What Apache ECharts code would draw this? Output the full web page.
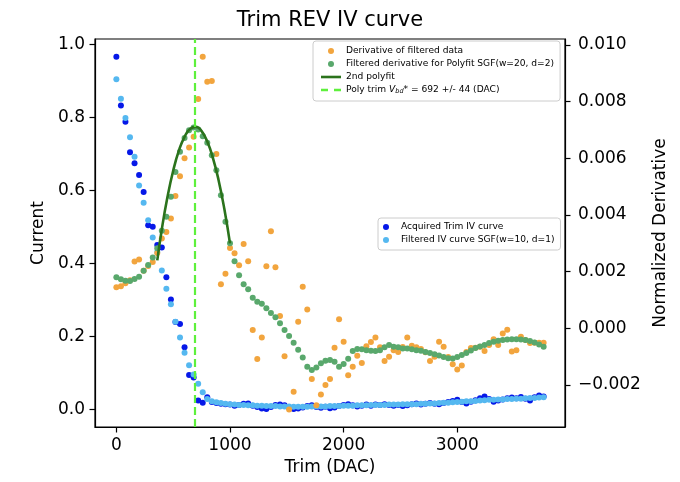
<!DOCTYPE html>
<html><head><meta charset="utf-8">
<script src="https://cdn.jsdelivr.net/npm/echarts@6/dist/echarts.min.js"></script>
<style>html,body{margin:0;padding:0;background:#fff}#c{width:680px;height:482px}</style>
</head><body><div id="c"></div>
<script>
const trim = [0,40,80,120,160,200,240,280,320,360,400,440,480,520,560,600,640,680,720,760,800,840,880,920,960,1000,1040,1080,1120,1160,1200,1240,1280,1320,1360,1400,1440,1480,1520,1560,1600,1640,1680,1720,1760,1800,1840,1880,1920,1960,2000,2040,2080,2120,2160,2200,2240,2280,2320,2360,2400,2440,2480,2520,2560,2600,2640,2680,2720,2760,2800,2840,2880,2920,2960,3000,3040,3080,3120,3160,3200,3240,3280,3320,3360,3400,3440,3480,3520,3560,3600,3640,3680,3720,3760];
const ivAcquired = [0.966,0.832,0.788,0.704,0.674,0.642,0.595,0.504,0.500,0.450,0.443,0.362,0.301,0.239,0.234,0.170,0.094,0.087,0.024,0.018,0.033,0.020,0.017,0.015,0.014,
0.013,0.010,0.012,0.015,0.016,0.010,0.006,0.002,0.001,0.006,0.012,0.013,0.011,0.005,0.001,0.002,0.005,0.009,0.011,0.006,0.004,0.007,0.003,0.005,0.009,0.012,0.014,0.011,0.008,0.010,0.013,0.010,0.013,0.012,0.014,0.012,0.010,0.012,0.009,0.011,0.014,0.016,0.013,0.015,0.017,0.015,0.014,0.017,0.020,0.023,0.026,0.020,0.016,0.021,0.025,0.030,0.035,0.028,0.021,0.024,0.027,0.030,0.032,0.030,0.034,0.029,0.024,0.033,0.038,0.035];
const ivFiltered = [0.904,0.851,0.798,0.745,0.692,0.613,0.566,0.518,0.471,0.431,0.380,0.330,0.288,0.240,0.197,0.155,0.121,0.095,0.070,0.047,0.028,0.022,0.019,0.017,0.015,
0.014,0.013,0.012,0.012,0.011,0.011,0.010,0.010,0.009,0.009,
0.009,0.008,0.008,0.008,0.007,0.007,0.007,0.007,0.008,0.008,
0.008,0.008,0.009,0.009,0.009,0.010,0.010,0.010,0.011,0.011,
0.011,0.012,0.012,0.012,0.012,0.013,0.013,0.013,0.014,0.014,
0.014,0.014,0.015,0.015,0.016,0.016,0.017,0.018,0.018,0.019,
0.020,0.021,0.022,0.022,0.023,0.024,0.025,0.026,0.026,0.027,
0.027,0.028,0.028,0.029,0.029,0.030,0.031,0.031,0.032,0.033];
const derivFiltered = [0.00145,0.00149,0.00159,0.00170,0.00236,0.00243,0.00203,0.00220,0.00234,0.00266,
0.00317,0.00340,0.00388,0.00467,0.00537,0.00600,0.00638,0.00676,0.00809,0.00958,
0.00870,0.00873,0.00615,0.00156,0.00193,0.00284,0.00265,0.00223,0.00298,0.00237,
-0.00006,-0.00108,-0.00032,0.00219,0.00343,0.00216,0.00044,-0.00098,-0.00286,-0.00224,
0.00023,0.00147,0.00067,-0.00179,-0.00271,-0.00233,-0.00200,-0.00179,-0.00068,0.00032,
-0.00047,-0.00165,-0.00135,-0.00097,-0.00122,-0.00063,-0.00048,-0.00032,-0.00067,-0.00115,
-0.00100,-0.00077,-0.00083,-0.00066,-0.00032,-0.00061,-0.00067,-0.00073,-0.00084,-0.00115,
-0.00100,-0.00047,-0.00065,-0.00101,-0.00127,-0.00145,-0.00131,-0.00083,-0.00069,-0.00068,
-0.00065,-0.00080,-0.00059,-0.00038,-0.00059,-0.00018,-0.00005,-0.00082,-0.00077,-0.00030,
-0.00041,-0.00052,-0.00051,-0.00051,-0.00051];
const derivSGF = [0.00180,0.00173,0.00168,0.00167,0.00174,0.00182,0.00203,0.00224,0.00250,0.00283,
0.00344,0.00394,0.00464,0.00552,0.00623,0.00672,0.00699,0.00709,0.00702,0.00678,
0.00655,0.00611,0.00558,0.00470,0.00376,0.00300,0.00237,0.00187,0.00156,0.00138,
0.00108,0.00094,0.00087,0.00071,0.00054,0.00039,0.00018,-0.00006,-0.00027,-0.00051,
-0.00075,-0.00103,-0.00135,-0.00147,-0.00138,-0.00123,-0.00114,-0.00112,-0.00118,-0.00135,
-0.00126,-0.00107,-0.00080,-0.00073,-0.00074,-0.00077,-0.00079,-0.00080,-0.00077,-0.00067,
-0.00059,-0.00065,-0.00067,-0.00071,-0.00071,-0.00074,-0.00077,-0.00079,-0.00083,-0.00087,
-0.00091,-0.00096,-0.00101,-0.00105,-0.00106,-0.00101,-0.00094,-0.00087,-0.00078,-0.00069,
-0.00064,-0.00059,-0.00052,-0.00047,-0.00044,-0.00041,-0.00039,-0.00038,-0.00038,-0.00039,
-0.00041,-0.00045,-0.00050,-0.00057,-0.00065];
const polyTrim = [360,400,450,500,550,600,650,700,750,800,850,900,950,1000];
const polyFit = [0.00240,0.00350,0.00464,0.00556,0.00627,0.00676,0.00704,0.00711,0.00696,0.00659,0.00601,0.00522,0.00422,0.00300];
const vbdTrim = 692;
const xTicks = [0,1000,2000,3000];
const yLeftTicks = [0,0.2,0.4,0.6,0.8,1.0];
const yRightTicks = [-0.002,0,0.002,0.004,0.006,0.008,0.010];

const xRange = [-188, 3948];
const yLeftRange = [-0.0485, 1.0145];
const yRightRange = [-0.00348, 0.01021];

const FONT = 'DejaVu Sans';
const pair = (xs, ys) => xs.map((x, i) => [x, ys[i]]);
const NAME_A = 'Acquired Trim IV curve';
const NAME_F = 'Filtered IV curve SGF(w=10, d=1)';
const NAME_D = 'Derivative of filtered data';
const NAME_G = 'Filtered derivative for Polyfit SGF(w=20, d=2)';
const NAME_P = '2nd polyfit';
const NAME_V = 'Poly trim Vbd* = 692 +/- 44 (DAC)';
const C_POLY = '#2b731c', C_VBD = '#5ef03c';

const axisCommon = {
  splitLine: {show: false},
  axisLine: {show: true, onZero: false, lineStyle: {color: '#000', width: 1.2}},
  axisTick: {show: true, length: 5.5, lineStyle: {color: '#000', width: 1.2}},
  nameTextStyle: {fontSize: 17, color: '#000', fontFamily: FONT}
};
const legendCommon = {
  orient: 'vertical', selectedMode: false,
  itemWidth: 20, itemHeight: 6, itemGap: 3,
  backgroundColor: 'rgba(255,255,255,0.8)', borderColor: '#cccccc', borderWidth: 1, borderRadius: 3,
  textStyle: {fontSize: 9.1, lineHeight: 10, color: '#000', fontFamily: FONT,
    rich: {
      i: {fontSize: 9.1, fontStyle: 'italic', color: '#000', fontFamily: FONT},
      s: {fontSize: 6.5, fontStyle: 'italic', color: '#000', fontFamily: FONT, verticalAlign: 'bottom'}
    }}
};

const chart = echarts.init(document.getElementById('c'));
chart.setOption({
  animation: false,
  textStyle: {fontFamily: FONT},
  grid: {left: 95, right: 115, top: 39, bottom: 55, show: true, borderColor: '#000', borderWidth: 1.2},
  graphic: [{type: 'text', x: 330, y: 21,
    style: {text: 'Trim REV IV curve', fontSize: 21, fontFamily: FONT, fill: '#000',
      align: 'center', verticalAlign: 'middle', textAlign: 'center', textVerticalAlign: 'middle'}}],
  xAxis: Object.assign({}, axisCommon, {
    type: 'value', min: xRange[0], max: xRange[1],
    axisTick: Object.assign({}, axisCommon.axisTick, {customValues: xTicks}),
    axisLabel: {customValues: xTicks, margin: 10, fontSize: 17, color: '#000', fontFamily: FONT,
      formatter: v => String(Math.round(v))},
    name: 'Trim (DAC)', nameLocation: 'middle', nameGap: 30
  }),
  yAxis: [
    Object.assign({}, axisCommon, {
      type: 'value', position: 'left', min: yLeftRange[0], max: yLeftRange[1],
      axisTick: Object.assign({}, axisCommon.axisTick, {customValues: yLeftTicks}),
      axisLabel: {customValues: yLeftTicks, margin: 10, fontSize: 17, color: '#000', fontFamily: FONT,
        formatter: v => v.toFixed(1)},
      name: 'Current', nameLocation: 'middle', nameGap: 48
    }),
    Object.assign({}, axisCommon, {
      type: 'value', position: 'right', min: yRightRange[0], max: yRightRange[1],
      axisTick: Object.assign({}, axisCommon.axisTick, {customValues: yRightTicks}),
      axisLabel: {customValues: yRightTicks, margin: 13, fontSize: 17, color: '#000', fontFamily: FONT,
        formatter: v => (v < -1e-9 ? '\u2212' : '') + Math.abs(v).toFixed(3)},
      name: 'Normalized Derivative', nameLocation: 'middle', nameGap: 84
    })
  ],
  legend: [
    Object.assign({}, legendCommon, {
      left: 313, top: 41, padding: [5, 6, 6, 8],
      data: [NAME_D, NAME_G,
        {name: NAME_P, icon: 'path://M0 0h20v2.6h-20z', itemStyle: {color: C_POLY}},
        {name: NAME_V, icon: 'path://M0 0h7v2.4h-7z M13 0h7v2.4h-7z', itemStyle: {color: C_VBD}}],
      formatter: n => n === NAME_V ? 'Poly trim {i|V}{s|bd}* = 692 +/- 44 (DAC)' : n
    }),
    Object.assign({}, legendCommon, {
      left: 378, top: 218, padding: [4, 6, 5, 5],
      data: [NAME_A, NAME_F]
    })
  ],
  series: [
    {name: NAME_A, type: 'scatter', yAxisIndex: 0, symbol: 'circle', symbolSize: 6,
      itemStyle: {color: '#0618e8', opacity: 1}, data: pair(trim, ivAcquired), z: 2},
    {name: NAME_F, type: 'scatter', yAxisIndex: 0, symbol: 'circle', symbolSize: 6,
      itemStyle: {color: '#55b8f0', opacity: 1}, data: pair(trim, ivFiltered), z: 2},
    {name: NAME_D, type: 'scatter', yAxisIndex: 1, symbol: 'circle', symbolSize: 6,
      itemStyle: {color: '#f2a53e', opacity: 1}, data: pair(trim, derivFiltered), z: 3},
    {name: NAME_G, type: 'scatter', yAxisIndex: 1, symbol: 'circle', symbolSize: 6,
      itemStyle: {color: '#59a86c', opacity: 1}, data: pair(trim, derivSGF), z: 3},
    {name: NAME_P, type: 'line', yAxisIndex: 1, symbol: 'none', smooth: true,
      lineStyle: {color: C_POLY, width: 2.6}, itemStyle: {color: C_POLY},
      data: pair(polyTrim, polyFit), z: 4},
    {name: NAME_V, type: 'line', yAxisIndex: 1, symbol: 'none',
      lineStyle: {color: C_VBD, width: 2.2, type: [8, 4]}, itemStyle: {color: C_VBD},
      data: [[vbdTrim, yRightRange[0]], [vbdTrim, yRightRange[1]]], z: 5}
  ]
});
</script></body></html>
